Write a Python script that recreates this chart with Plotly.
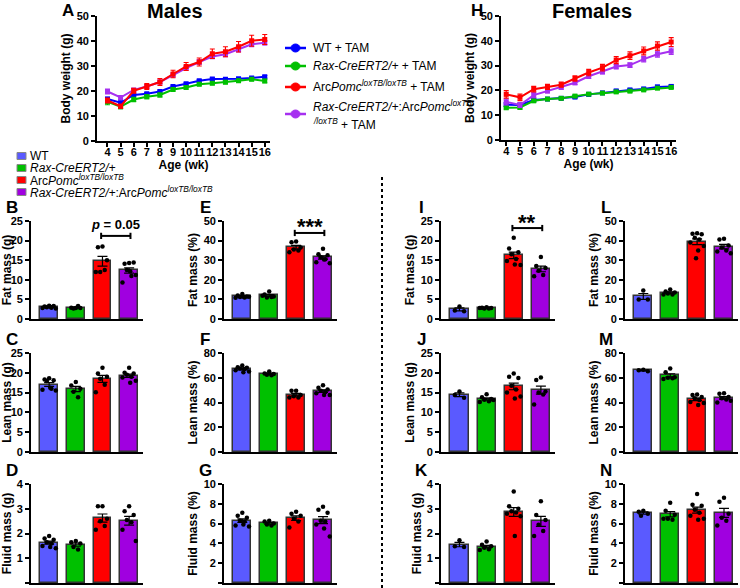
import numpy as np
import plotly.graph_objects as go

W, H = 740, 588
FONT = "Arial, Liberation Sans, sans-serif"

# ---------------- data ----------------
weeks = list(range(4, 17))
week_ticks = [str(w) for w in weeks]

# Males body weight (g)
m_wt = [16.8, 15.3, 18.4, 18.9, 19.8, 21.8, 22.9, 24.1, 24.8, 24.7, 24.9, 25.2, 25.7]
m_wt_err = [0.7, 0.6, 0.5, 0.5, 0.5, 0.5, 0.5, 0.5, 0.5, 0.5, 0.5, 0.5, 0.5]
m_rax = [15.7, 13.7, 16.6, 17.7, 18.4, 20.6, 21.4, 22.7, 23.1, 23.5, 24.1, 24.7, 24.0]
m_rax_err = [1.2, 0.8, 0.9, 0.8, 0.8, 0.6, 0.6, 0.6, 0.6, 0.6, 0.6, 0.6, 0.7]
m_arc = [16.2, 13.9, 20.1, 21.8, 23.6, 26.8, 29.8, 31.6, 34.9, 35.7, 37.7, 40.1, 40.6]
m_arc_err = [1.0, 0.8, 1.0, 1.2, 1.4, 1.5, 1.6, 1.6, 1.9, 2.0, 2.1, 2.2, 2.0]
m_rxa = [19.8, 17.4, 20.4, 21.8, 23.6, 26.4, 29.2, 31.6, 33.8, 34.7, 36.6, 38.7, 39.3]
m_rxa_err = [1.0, 0.8, 0.6, 0.6, 0.7, 0.8, 0.8, 0.9, 0.9, 1.0, 1.0, 1.0, 0.9]

# Females body weight (g)
f_wt = [14.2, 14.1, 16.1, 16.5, 16.8, 17.3, 18.4, 19.0, 19.8, 20.2, 20.6, 21.4, 21.6]
f_wt_err = [0.8, 0.6, 0.5, 0.4, 0.4, 0.5, 0.6, 0.5, 0.5, 0.5, 0.5, 0.6, 0.6]
f_rax = [13.0, 13.1, 15.8, 16.5, 16.8, 17.7, 18.5, 18.9, 19.4, 19.7, 20.2, 20.9, 21.2]
f_rax_err = [0.5, 0.6, 0.5, 0.4, 0.4, 0.4, 0.4, 0.4, 0.4, 0.4, 0.4, 0.5, 0.5]
f_arc = [18.4, 17.2, 20.5, 21.4, 22.3, 24.8, 27.2, 29.2, 32.2, 34.0, 35.9, 37.9, 39.5]
f_arc_err = [1.5, 1.3, 1.1, 1.0, 1.0, 1.1, 1.3, 1.3, 1.4, 1.5, 1.6, 1.7, 1.8]
f_rxa = [15.4, 14.1, 18.1, 19.8, 21.2, 23.1, 25.7, 27.5, 29.6, 30.2, 32.6, 34.6, 35.8]
f_rxa_err = [1.2, 1.0, 1.0, 0.8, 0.7, 0.8, 0.9, 0.8, 0.9, 0.9, 1.1, 1.2, 1.3]

# Individual animals: [WT, Rax, ArcPomc, Rax:ArcPomc]
B_fat_g = [[3.4, 3.2, 3.3, 3.0, 2.9, 2.8, 2.7, 3.1], [2.8, 2.9, 2.8, 2.7, 3.3],
           [18.5, 18.3, 15.0, 12.0, 12.5, 12.0], [14.3, 14.1, 14.4, 12.5, 11.0, 9.3, 11.2, 12.2]]
E_fat_pct = [[12.8, 12.0, 11.5, 11.2, 11.0, 10.8, 11.3, 11.4], [14.0, 12.5, 11.5, 11.0, 11.2, 11.8],
             [39.5, 39.2, 36.5, 35.5, 35.0, 34.0], [35.8, 33.0, 32.5, 31.5, 30.5, 29.0, 28.5, 30.3]]
C_lean_g = [[18.6, 18.3, 18.1, 17.9, 16.0, 15.7, 15.5, 16.2], [17.7, 16.8, 16.0, 15.2, 13.8],
            [21.3, 19.8, 19.0, 18.5, 17.0, 15.1], [21.3, 20.0, 19.8, 19.5, 19.0, 18.8, 18.0, 17.5]]
F_lean_pct = [[70.0, 68.5, 68.0, 67.5, 67.0, 66.0, 65.0, 64.5], [65.0, 63.5, 63.0, 62.5, 62.0],
              [49.5, 49.5, 46.0, 45.0, 44.0, 44.0], [54.0, 52.0, 50.5, 49.5, 48.5, 47.5, 46.0, 46.0]]
D_fluid_g = [[1.9, 1.8, 1.75, 1.65, 1.6, 1.5, 1.4, 1.45], [1.7, 1.65, 1.6, 1.45, 1.35],
             [3.1, 3.1, 2.6, 2.5, 2.3, 2.15], [3.1, 2.9, 2.75, 2.55, 2.45, 2.15, 1.7]]
G_fluid_pct = [[7.1, 6.8, 6.6, 6.3, 6.2, 5.8, 5.7, 5.9], [6.3, 6.2, 6.0, 5.9, 5.8],
               [7.2, 7.0, 6.8, 6.5, 6.2, 5.6], [7.7, 7.4, 7.1, 6.3, 6.2, 5.9, 4.7, 5.5]]
I_fat_g = [[3.2, 2.2, 2.0], [3.0, 2.9, 2.8, 2.7, 2.7, 2.8],
           [20.7, 18.0, 17.0, 16.5, 15.3, 14.8, 13.8, 13.9], [15.8, 13.5, 13.0, 12.3, 11.2, 10.9]]
L_fat_pct = [[14.5, 10.0, 10.0], [15.0, 14.0, 13.5, 13.0, 12.5, 12.5],
             [43.8, 43.5, 43.2, 41.5, 40.5, 39.0, 37.2, 35.0, 31.0], [41.0, 40.5, 37.5, 36.5, 35.0, 34.5, 33.5]]
J_lean_g = [[15.3, 14.4, 13.7], [14.6, 13.8, 13.4, 13.2, 12.8, 12.6, 13.1],
            [19.8, 19.0, 18.7, 16.7, 15.8, 15.0, 14.0, 13.5], [18.8, 18.2, 15.3, 15.0, 14.5, 12.0]]
M_lean_pct = [[66.5, 66.0, 65.3], [67.5, 64.5, 60.5, 60.0, 59.5, 59.0],
              [46.5, 46.0, 44.5, 43.5, 42.0, 40.5, 39.5, 38.0], [47.5, 47.0, 44.5, 43.5, 42.5, 40.0, 41.5]]
K_fluid_g = [[1.73, 1.48, 1.45], [1.68, 1.55, 1.48, 1.42, 1.36, 1.33],
             [3.7, 3.1, 3.0, 2.9, 2.85, 2.8, 2.7, 1.9], [3.3, 2.75, 2.55, 2.35, 2.1, 1.9]]
N_fluid_pct = [[7.3, 7.2, 7.0, 6.8], [8.1, 7.3, 6.9, 6.5, 6.4, 6.5],
               [9.0, 7.9, 7.8, 7.4, 7.1, 6.8, 6.5, 6.4], [8.6, 8.2, 7.0, 6.6, 6.3, 5.8]]

bar_colors = ["#5a5aff", "#00c000", "#ff0000", "#a000e0"]
line_colors = ["#0000ff", "#00c000", "#ff0000", "#a630f0"]

line_legend = ["WT + TAM", "<i>Rax-CreERT2/+</i> + TAM",
               "Arc<i>Pomc</i><sup><i>loxTB/loxTB</i></sup> + TAM",
               "<i>Rax-CreERT2/+</i>:Arc<i>Pomc</i><sup><i>loxTB</i></sup>",
               "<sup><i>/loxTB</i></sup> + TAM"]
bar_legend = ["WT", "<i>Rax-CreERT2/+</i>", "Arc<i>Pomc</i><sup><i>loxTB/loxTB</i></sup>",
              "<i>Rax-CreERT2/+</i>:Arc<i>Pomc</i><sup><i>loxTB/loxTB</i></sup>"]

# ---------------- helpers ----------------
def dx(a, b):
    return [a / W, b / W]

def dy(top, bottom):
    return [1 - bottom / H, 1 - top / H]

fig = go.Figure()
layout = {}
annotations = []
shapes = []

tickfont = dict(family=FONT, size=11, color="black", weight="bold")
titlefont = dict(family=FONT, size=12, color="black", weight="bold")

def yax(dom, rng, dtick, title, anchor):
    return dict(domain=dom, range=rng, dtick=dtick, tick0=0, showline=True, linecolor="black",
                linewidth=1.8, ticks="outside", ticklen=4, tickwidth=1.5, tickcolor="black",
                showgrid=False, zeroline=False, tickfont=tickfont, anchor=anchor, automargin=False,
                title=dict(text=title, font=titlefont, standoff=3), fixedrange=True)

# ---------------- line panels ----------------
line_panels = [
    (1, (97, 270), (16, 141), [3.2, 16.4], [(m_wt, m_wt_err), (m_rax, m_rax_err), (m_arc, m_arc_err), (m_rxa, m_rxa_err)]),
    (2, (501, 676), (16, 140), [3.62, 16.35], [(f_wt, f_wt_err), (f_rax, f_rax_err), (f_arc, f_arc_err), (f_rxa, f_rxa_err)]),
]
for idx, xd, yd, xr, series in line_panels:
    xn = "xaxis" if idx == 1 else f"xaxis{idx}"
    yn = "yaxis" if idx == 1 else f"yaxis{idx}"
    xs = "x" if idx == 1 else f"x{idx}"
    ys = "y" if idx == 1 else f"y{idx}"
    layout[xn] = dict(domain=dx(*xd), range=xr, tickvals=weeks, ticktext=week_ticks, showline=True,
                      linecolor="black", linewidth=1.8, ticks="outside", ticklen=4, tickwidth=1.5,
                      tickcolor="black", showgrid=False, zeroline=False, tickfont=tickfont, anchor=ys,
                      tickangle=0, automargin=False, ticklabelstandoff=-4,
                      title=dict(text="Age (wk)", font=titlefont, standoff=2), fixedrange=True)
    layout[yn] = yax(dy(*yd), [0, 50], 10, "Body weight (g)", xs)
    for k in [0, 1, 3, 2]:
        vals, err = series[k]
        fig.add_trace(go.Scatter(x=weeks, y=vals, mode="lines+markers", xaxis=xs, yaxis=ys,
                                 line=dict(color=line_colors[k], width=2),
                                 marker=dict(symbol="square", size=5, color=line_colors[k]),
                                 error_y=dict(type="data", array=err, color=line_colors[k],
                                              thickness=1.2, width=2.5),
                                 showlegend=False, cliponaxis=False))

# ---------------- bar panels ----------------
XR = [-0.68, 3.52]
bar_panels = [
    ("B", (31, 143), (221, 319), 25, 5, "Fat mass (g)", B_fat_g),
    ("E", (224, 337), (221, 319), 50, 10, "Fat mass (%)", E_fat_pct),
    ("C", (31, 143), (353, 452), 25, 5, "Lean mass (g)", C_lean_g),
    ("F", (224, 337), (353, 452), 80, 20, "Lean mass (%)", F_lean_pct),
    ("D", (31, 143), (484, 583), 4, 1, "Fluid mass (g)", D_fluid_g),
    ("G", (224, 337), (484, 583), 10, 2, "Fluid mass (%)", G_fluid_pct),
    ("I", (441, 555), (221, 319), 25, 5, "Fat mass (g)", I_fat_g),
    ("L", (625, 738), (221, 319), 50, 10, "Fat mass (%)", L_fat_pct),
    ("J", (441, 555), (353, 452), 25, 5, "Lean mass (g)", J_lean_g),
    ("M", (625, 738), (353, 452), 80, 20, "Lean mass (%)", M_lean_pct),
    ("K", (441, 555), (484, 583), 4, 1, "Fluid mass (g)", K_fluid_g),
    ("N", (625, 738), (484, 583), 10, 2, "Fluid mass (%)", N_fluid_pct),
]
jit = [0.0, -0.17, 0.17, -0.085, 0.085, -0.25, 0.25, 0.04, -0.04]
axis_of = {}
for i, (letter, xd, yd, ymax, dt, title, pts) in enumerate(bar_panels):
    idx = i + 3
    xs, ys = f"x{idx}", f"y{idx}"
    axis_of[letter] = (xs, ys)
    layout[f"xaxis{idx}"] = dict(domain=dx(*xd), range=XR, showline=True, linecolor="black",
                                 linewidth=1.8, ticks="", showticklabels=False, showgrid=False,
                                 zeroline=False, anchor=ys, fixedrange=True, automargin=False)
    layout[f"yaxis{idx}"] = yax(dy(*yd), [0, ymax], dt, title, xs)
    means = [float(np.mean(p)) for p in pts]
    sems = [float(np.std(p, ddof=1) / np.sqrt(len(p))) for p in pts]
    fig.add_trace(go.Bar(x=[0, 1, 2, 3], y=means, width=0.67, xaxis=xs, yaxis=ys,
                         marker=dict(color=bar_colors, line=dict(color="#333333", width=1.5)),
                         error_y=dict(type="data", array=sems, color="black", thickness=1.2, width=5),
                         showlegend=False))
    px_, py_ = [], []
    for g, p in enumerate(pts):
        for j, v in enumerate(p):
            px_.append(g + jit[j % len(jit)])
            py_.append(v)
    fig.add_trace(go.Scatter(x=px_, y=py_, mode="markers", xaxis=xs, yaxis=ys,
                             marker=dict(color="black", size=4.5), showlegend=False, cliponaxis=False))
    # panel letter
    annotations.append(dict(text=letter, x=(xd[0] - 19) / W, y=1 - (yd[0] - 14) / H, xref="paper",
                            yref="paper", xanchor="center", yanchor="middle", showarrow=False,
                            font=dict(family=FONT, size=17, color="black", weight="bold")))

# ---------------- significance brackets ----------------
def bracket(letter, y, cap, text, ty, size, shift):
    xs, ys = axis_of[letter]
    shapes.append(dict(type="line", xref=xs, yref=ys, x0=1.95, x1=3.05, y0=y, y1=y,
                       line=dict(color="black", width=2)))
    for xx in (1.95, 3.05):
        shapes.append(dict(type="line", xref=xs, yref=ys, x0=xx, x1=xx, y0=y - cap, y1=y + cap,
                           line=dict(color="black", width=2)))
    annotations.append(dict(text=text, x=2.5, y=ty, xref=xs, yref=ys, xanchor="center",
                            yanchor="middle", showarrow=False, yshift=shift,
                            font=dict(family=FONT, size=size, color="black", weight="bold")))

bracket("B", 21.2, 0.8, "<i>p</i> = 0.05", 24.2, 13, 0)
bracket("E", 43.9, 1.6, "***", 47.0, 22, 0)
bracket("I", 23.2, 0.8, "**", 25.0, 22, -1)

# ---------------- titles & letters ----------------
for txt, x, y, s in [("A", 68, 10, 17), ("H", 477, 10, 17), ("Males", 175, 11, 20), ("Females", 592, 11, 20)]:
    annotations.append(dict(text=txt, x=x / W, y=1 - y / H, xref="paper", yref="paper",
                            xanchor="center", yanchor="middle", showarrow=False,
                            font=dict(family=FONT, size=s, color="black", weight="bold")))

# ---------------- line legend (manual) ----------------
leg_rows = [48, 66, 87, 114]
for k, yy in enumerate(leg_rows):
    yp = 1 - yy / H
    shapes.append(dict(type="line", xref="paper", yref="paper", x0=285 / W, x1=306 / W, y0=yp, y1=yp,
                       line=dict(color=line_colors[k], width=2.5)))
    shapes.append(dict(type="circle", xref="paper", yref="paper", x0=291 / W, x1=300 / W,
                       y0=1 - (yy + 4) / H, y1=1 - (yy - 4) / H, fillcolor=line_colors[k],
                       line=dict(color=line_colors[k], width=1)))
for txt, yy in zip(line_legend, [48, 66, 86, 106, 124]):
    annotations.append(dict(text=txt, x=311 / W, y=1 - yy / H, xref="paper", yref="paper",
                            xanchor="left", yanchor="middle", showarrow=False,
                            font=dict(family=FONT, size=12, color="black")))

# ---------------- bar legend (manual) ----------------
for k, yy in enumerate([156, 168, 180, 192]):
    shapes.append(dict(type="rect", xref="paper", yref="paper", x0=17 / W, x1=26 / W,
                       y0=1 - (yy + 3.5) / H, y1=1 - (yy - 3.5) / H, fillcolor=bar_colors[k],
                       line=dict(color="#888888", width=1)))
    annotations.append(dict(text=bar_legend[k], x=28 / W, y=1 - yy / H, xref="paper", yref="paper",
                            xanchor="left", yanchor="middle", showarrow=False,
                            font=dict(family=FONT, size=12, color="black")))

# ---------------- dotted divider ----------------
shapes.append(dict(type="line", xref="paper", yref="paper", x0=382 / W, x1=382 / W,
                   y0=0, y1=1 - 176 / H, line=dict(color="black", width=2, dash="dot")))

fig.update_layout(width=W, height=H, margin=dict(l=0, r=0, t=0, b=0, autoexpand=False),
                  paper_bgcolor="white", plot_bgcolor="white", showlegend=False,
                  annotations=annotations, shapes=shapes, bargap=0,
                  font=dict(family=FONT, color="black"), **layout)
fig.write_html("out.html", config={"displayModeBar": False},
               post_script="document.body.style.margin='0px';")
